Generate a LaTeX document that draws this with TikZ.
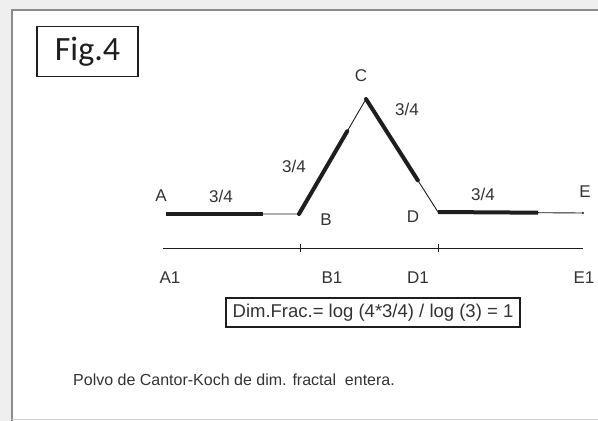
\documentclass[tikz,border=0pt]{standalone}
\usepackage{fontspec}
\setmainfont{Liberation Sans}
\newfontfamily\figfont{Carlito}
\usetikzlibrary{calc}
\definecolor{frame}{HTML}{8C8C8C}
\definecolor{outside}{HTML}{EFEFEF}
\definecolor{ink}{HTML}{1E1E1E}
\definecolor{txt}{HTML}{333333}
\tikzset{
  lbl/.style={inner sep=0pt, text=txt, font=\fontsize{17}{19}\selectfont},
  thinseg/.style={draw=ink, line width=0.9pt},
  thickseg/.style={draw=ink, line width=4pt},
  boxed/.style={draw=ink, line width=1.6pt}
}
\begin{document}
\begin{tikzpicture}[x=1pt,y=-1pt]
\useasboundingbox (0,0) rectangle (598,421);
% outside background and frame
\fill[outside] (0,0) rectangle (598,421);
\fill[white] (12,10) rectangle (598,421);
\draw[frame, line width=2.4pt] (12,421) -- (12,10) -- (598,10);
\draw[frame!40, line width=0.8pt] (12,419) -- (598,419);
% Fig.4 box
\node[boxed, minimum width=101pt, minimum height=50pt, inner sep=0pt,
      font=\figfont\fontsize{34}{36}\selectfont, text=ink] (fig) at (87.5,51.5) {Fig.4};
% polyline points
\coordinate (A) at (166,214);
\coordinate (B) at (299,214);
\coordinate (C) at (366,99);
\coordinate (D) at (438,212);
\coordinate (E) at (583,213);
\draw[thinseg] (A) -- (B) -- (C) -- (D) -- (E);
\draw[thickseg, line cap=butt] (A) -- ($(A)!0.73!(B)$);
\draw[thickseg, line cap=round] (B) -- ($(B)!0.72!(C)$);
\draw[thickseg, line cap=round] (C) -- ($(C)!0.72!(D)$);
\draw[thickseg, line cap=butt] (D) -- ($(D)!0.69!(E)$);
\fill[ink] (E) circle (1.2pt);
% labels on polyline
\node[lbl] (lA) at (161,196) {A};
\node[lbl] (lAB) at (221,196) {3/4};
\node[lbl] (lBC) at (294,166) {3/4};
\node[lbl] (lC) at (361,76) {C};
\node[lbl] (lCD) at (407,109) {3/4};
\node[lbl] (lB) at (326,220) {B};
\node[lbl] (lD) at (413,217) {D};
\node[lbl] (lDE) at (483,194) {3/4};
\node[lbl] (lE) at (585,192) {E};
% axis
\coordinate (A1) at (163,248);
\coordinate (B1) at (300,248);
\coordinate (D1) at (438,248);
\coordinate (E1) at (583,248);
\draw[thinseg] (A1) -- (E1);
\draw[thinseg] ($(B1)+(0,-4)$) -- ($(B1)+(0,4)$);
\draw[thinseg] ($(D1)+(0,-4)$) -- ($(D1)+(0,4)$);
\node[lbl] (lA1) at (170,278) {A1};
\node[lbl] (lB1) at (332,278) {B1};
\node[lbl] (lD1) at (418,278) {D1};
\node[lbl] (lE1) at (584,278) {E1};
% formula
\node[draw=ink, line width=1.2pt, inner sep=0pt, minimum width=294pt, minimum height=29pt,
      text=txt, font=\fontsize{18.5}{20}\selectfont] (formula) at (373,312.5)
      {Dim.Frac.= log (4*3/4) / log (3) = 1};
% caption
\node[inner sep=0pt, anchor=west, text=txt, font=\fontsize{16}{18}\selectfont] (cap) at (73,380)
      {Polvo de Cantor-Koch de dim. fractal\ \ entera.};
\end{tikzpicture}
\end{document}
